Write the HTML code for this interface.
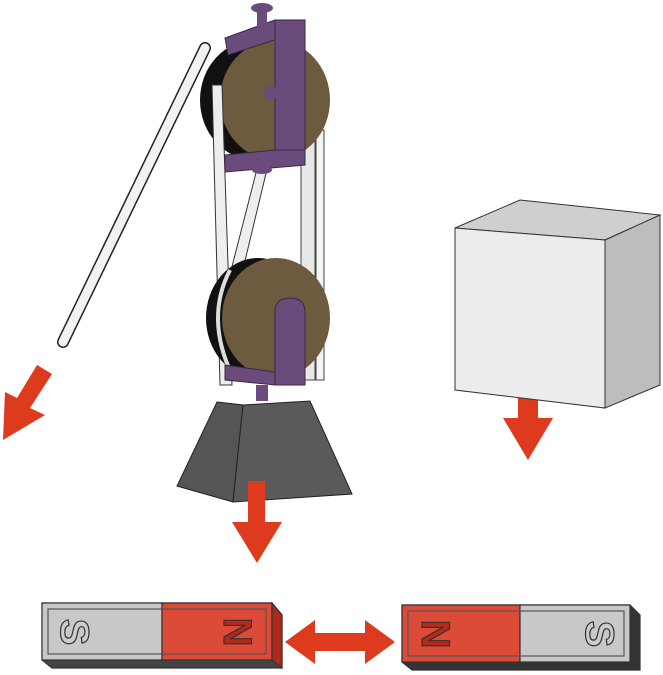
<!DOCTYPE html>
<html><head><style>html,body{margin:0;padding:0;background:#fff;}svg{display:block}</style></head>
<body>
<svg width="663" height="675" viewBox="0 0 663 675" xmlns="http://www.w3.org/2000/svg" font-family="Liberation Sans, sans-serif">
<line x1="205" y1="48" x2="63" y2="342" stroke="#222" stroke-width="12" stroke-linecap="round"/>
<line x1="205" y1="48" x2="63" y2="342" stroke="#f2f2f2" stroke-width="9" stroke-linecap="round"/>
<rect x="301" y="130" width="14" height="250" fill="#e8e8e8" stroke="#444" stroke-width="1"/>
<rect x="316" y="130" width="8" height="250" fill="#f4f4f4" stroke="#444" stroke-width="1"/>
<ellipse cx="255" cy="100" rx="55" ry="60" fill="#111"/>
<ellipse cx="275" cy="100" rx="55" ry="60" fill="#6e5a3e"/>
<polygon points="212,85 222,85 232,385 220,385" fill="#eee" stroke="#333" stroke-width="1"/>
<polygon points="258,165 268,165 238,290 226,290" fill="#eee" stroke="#333" stroke-width="1"/>
<ellipse cx="258" cy="318" rx="52" ry="60" fill="#111"/>
<path d="M230,270 Q205,318 232,375" stroke="#ddd" stroke-width="4" fill="none"/>
<ellipse cx="276" cy="318" rx="54" ry="60" fill="#6e5a3e"/>
<polygon points="225,38 275,20 305,20 305,30 228,55" fill="#6a4b7c" stroke="#3a2a45" stroke-width="1"/>
<rect x="275" y="20" width="30" height="145" fill="#6a4b7c" stroke="#3a2a45" stroke-width="1"/>
<polygon points="225,155 275,150 305,150 305,165 225,172" fill="#6a4b7c" stroke="#3a2a45" stroke-width="1"/>
<circle cx="271" cy="93" r="7" fill="#6a4b7c"/>
<rect x="257" y="8" width="10" height="22" fill="#6a4b7c"/>
<ellipse cx="262" cy="8" rx="11" ry="5" fill="#6a4b7c"/>
<ellipse cx="262" cy="170" rx="10" ry="4" fill="#6a4b7c"/>
<path d="M275,385 L275,312 Q275,298 290,298 Q305,298 305,312 L305,385 Z" fill="#6a4b7c" stroke="#3a2a45" stroke-width="1"/>
<polygon points="225,365 275,372 275,385 225,380" fill="#6a4b7c" stroke="#3a2a45" stroke-width="1"/>
<rect x="256" y="385" width="12" height="16" fill="#6a4b7c"/>
<polygon points="217,402 243,405 233,502 177,486" fill="#555" stroke="#222" stroke-width="1"/>
<polygon points="243,405 310,401 352,494 233,502" fill="#5a5a5a" stroke="#222" stroke-width="1"/>
<g fill="#dd3a1e">
<polygon points="248,481 265,481 265,522 282,522 257,563 232,522 248,522"/>
<polygon points="37,365 52,374 30,408 45,415 3,440 5,392 17,398"/>
<polygon points="518,378 538,378 538,418 553,418 528,460 503,418 518,418"/>
<polygon points="285,642 315,620 315,633 365,633 365,620 395,642 365,664 365,651 315,651 315,664"/>
</g>
<polygon points="455,228 520,200 660,215 605,240" fill="#cfcfcf" stroke="#333" stroke-width="1"/>
<polygon points="605,240 660,215 660,385 605,408" fill="#bdbdbd" stroke="#333" stroke-width="1"/>
<polygon points="455,228 605,240 605,408 455,390" fill="#ececec" stroke="#333" stroke-width="1"/>
<g stroke="#333" stroke-width="1.2">
<polygon points="42,603 272,603 282,615 282,668 52,668 42,660" fill="#444"/>
<rect x="42" y="603" width="120" height="57" fill="#c8c8c8"/>
<rect x="162" y="603" width="110" height="57" fill="#dc4a38"/>
<polygon points="272,603 282,615 282,668 272,660" fill="#b02a1c"/>
<rect x="48" y="609" width="218" height="45" fill="none" stroke="#555"/>
<polygon points="402,605 630,605 640,615 640,670 412,670 402,662" fill="#333"/>
<rect x="402" y="605" width="118" height="57" fill="#dc4a38"/>
<rect x="520" y="605" width="110" height="57" fill="#c8c8c8"/>
<rect x="408" y="611" width="216" height="45" fill="none" stroke="#555"/>
</g>
<g font-weight="bold" font-size="40" text-anchor="middle" stroke="#333" stroke-width="1.2">
<text transform="translate(75,632) rotate(90)" dy="14" fill="#ccc">S</text>
<text transform="translate(238,632) rotate(90)" dy="14" fill="#b8281a">N</text>
<text transform="translate(436,634) rotate(90)" dy="14" fill="#b8281a">N</text>
<text transform="translate(600,634) rotate(90)" dy="14" fill="#ccc">S</text>
</g>
</svg>
</body></html>
